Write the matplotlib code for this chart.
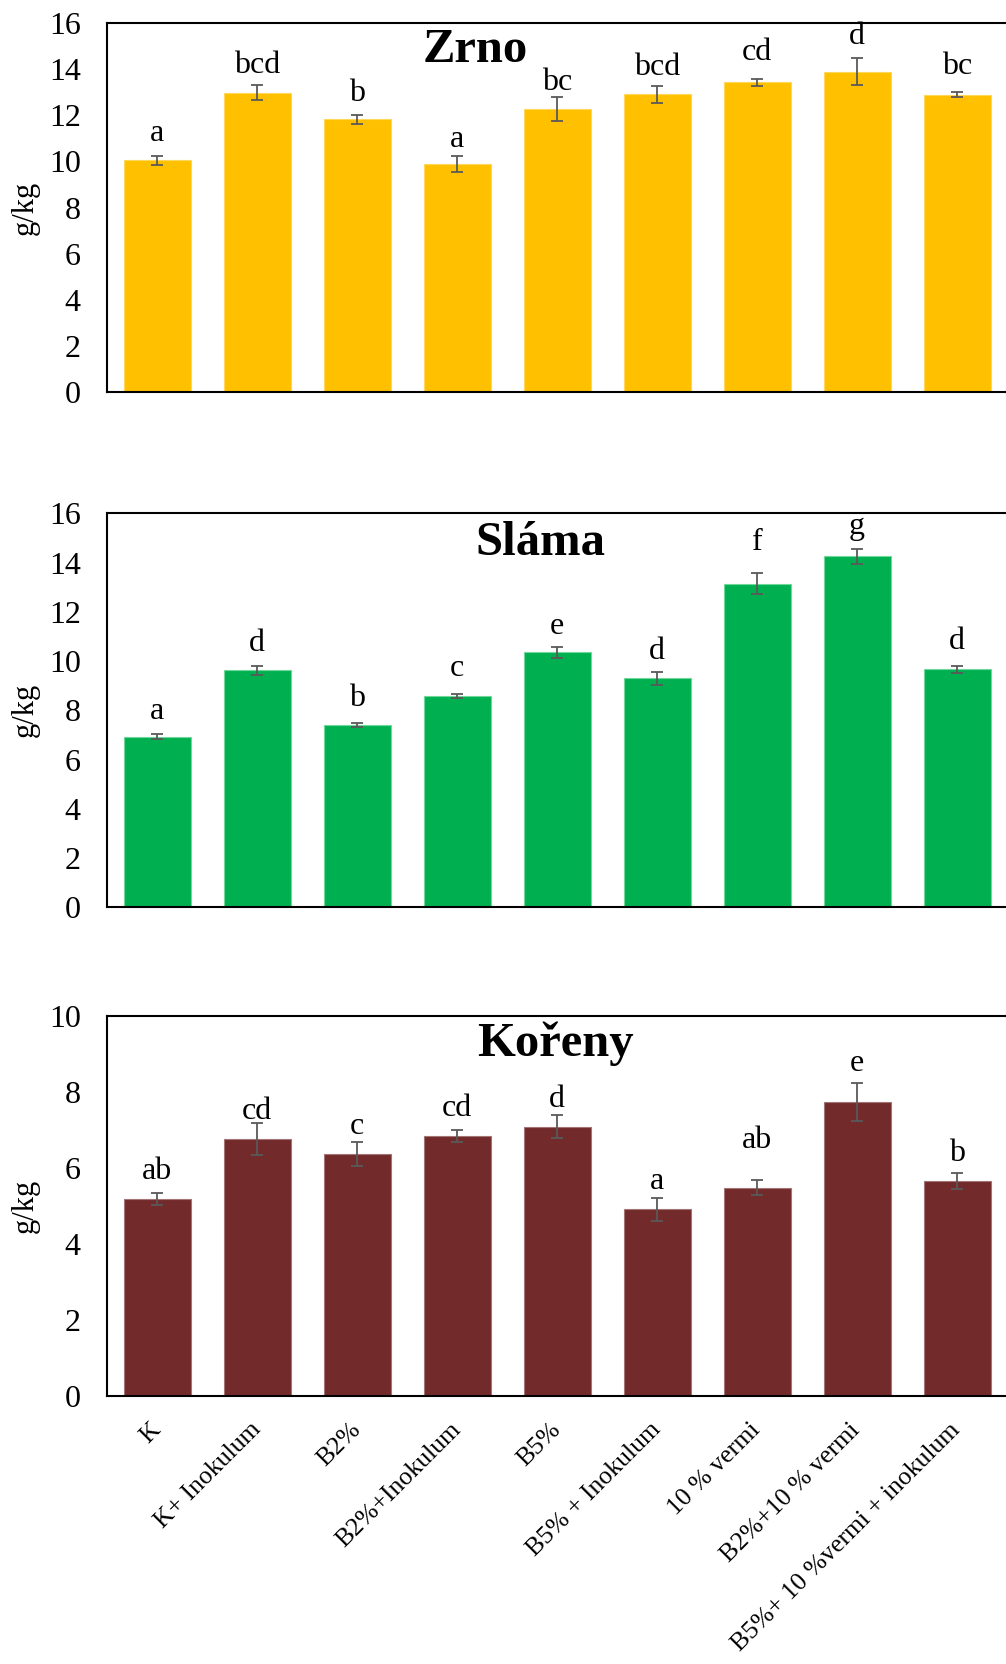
import numpy as np
from matplotlib import pyplot as plt

plt.rcParams['font.family'] = ['Liberation Serif', 'DejaVu Serif']

treatments = ["K", "K+ Inokulum", "B2%", "B2%+Inokulum", "B5%",
              "B5% + Inokulum", "10 % vermi", "B2%+10 % vermi",
              "B5%+ 10 %vermi + inokulum"]

zrno = [10.05, 12.98, 11.82, 9.87, 12.27, 12.91, 13.43, 13.88, 12.89]
zrno_err = [0.19, 0.33, 0.21, 0.35, 0.54, 0.37, 0.16, 0.59, 0.10]
zrno_letters = ["a", "bcd", "b", "a", "bc", "bcd", "cd", "d", "bc"]

slama = [6.93, 9.62, 7.39, 8.58, 10.35, 9.31, 13.14, 14.25, 9.66]
slama_err = [0.11, 0.18, 0.08, 0.08, 0.24, 0.26, 0.42, 0.29, 0.16]
slama_letters = ["a", "d", "b", "c", "e", "d", "f", "g", "d"]

koreny = [5.17, 6.76, 6.37, 6.83, 7.08, 4.91, 5.48, 7.74, 5.65]
koreny_err = [0.16, 0.42, 0.31, 0.16, 0.30, 0.30, 0.19, 0.50, 0.20]
koreny_letters = ["ab", "cd", "c", "cd", "d", "a", "ab", "e", "b"]

# gap (points) between the error bar top and the letter baseline
zrno_gap = [11, 9, 10, 7, 5, 8, 13.5, 10, 13]
slama_gap = [11, 10.5, 12.5, 13, 9, 9.5, 17, 11, 12]
koreny_gap = [10, 3, 6, 10, 6, 6, 23, 8.5, 9]


def drawPanel(ax, values, errors, letters, gaps, color, edge, title, title_x, ymax):
    x = np.arange(len(values))
    ax.bar(x, values, width=0.67, color=color, edgecolor=edge, linewidth=0.8)
    ax.errorbar(x, values, yerr=errors, fmt='none', ecolor='#595959',
                elinewidth=1.3, capsize=4.3, capthick=1.3)
    for xi, v, e, l, g in zip(x, values, errors, letters, gaps):
        ax.annotate(l, (xi, v + e), xytext=(0, g), textcoords='offset points',
                    ha='center', va='baseline', fontsize=23,
                    annotation_clip=False)
    ax.set_xlim(-0.5, 8.5)
    ax.set_ylim(0, ymax)
    ax.set_yticks(np.arange(0, ymax + 1, 2))
    ax.tick_params(axis='y', length=0, pad=19, labelsize=23)
    ax.tick_params(axis='x', length=0)
    ax.set_xticks(x)
    ax.set_xticklabels([])
    ax.set_ylabel("g/kg", fontsize=22)
    ax.yaxis.set_label_coords(-0.0744, 0.5)
    ax.text(title_x, 0.895, title, transform=ax.transAxes, fontsize=35,
            fontweight='bold', ha='center', va='baseline')
    ax.spines['right'].set_visible(False)
    for s in ['top', 'left', 'bottom']:
        ax.spines[s].set_linewidth(1.5)


fig = plt.figure(figsize=(10.06, 16.64), dpi=100)
ax1 = fig.add_axes([0.1064, 0.7644, 0.8946, 0.2218])
ax2 = fig.add_axes([0.1064, 0.4547, 0.8946, 0.2368])
ax3 = fig.add_axes([0.1064, 0.1611, 0.8946, 0.2285])

drawPanel(ax1, zrno, zrno_err, zrno_letters, zrno_gap,
          '#FFC000', '#FFD75A', "Zrno", 0.409, 16)
drawPanel(ax2, slama, slama_err, slama_letters, slama_gap,
          '#00B050', '#6FD89A', "Sláma", 0.482, 16)
drawPanel(ax3, koreny, koreny_err, koreny_letters, koreny_gap,
          '#722A2A', '#A27474', "Kořeny", 0.498, 10)

ax3.set_xticklabels(treatments, rotation=45, ha='right', va='center',
                    rotation_mode='anchor', fontsize=18.5)
ax3.tick_params(axis='x', pad=22)

fig.savefig("out.png", dpi=100)
